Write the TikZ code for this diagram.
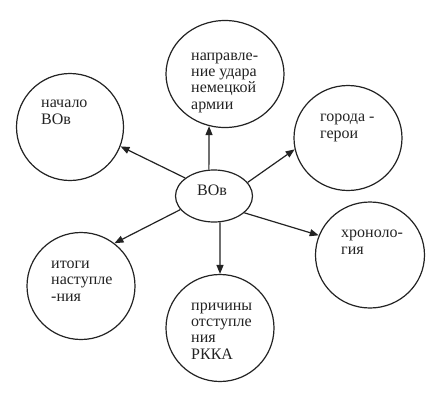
\documentclass[tikz,border=0pt]{standalone}
\usepackage{fontspec}
\setmainfont{Liberation Serif}
\usetikzlibrary{shapes.geometric,arrows.meta}
\definecolor{ink}{RGB}{35,35,35}
\begin{document}
\begin{tikzpicture}[x=1pt,y=-1pt,
  topic/.style={ellipse,draw=ink,line width=1.2pt,inner sep=0pt,minimum width=#1},
  lbl/.style={anchor=base west,inner sep=0pt,align=left,text=ink,
    font=\fontsize{16}{16.3}\selectfont},
  link/.style={draw=ink,line width=1.2pt,-{Triangle[length=9pt,width=7pt]}}]
\useasboundingbox (0,0) rectangle (445,400);
\fill[white] (0,0) rectangle (445,400);
% circles
\node[topic=118pt,minimum height=107pt] (t) at (225,74) {};
\node[topic=107pt,minimum height=107pt] (tl) at (70,127) {};
\node[topic=108pt,minimum height=105pt] (tr) at (348,138) {};
\node[topic=109pt,minimum height=106pt] (br) at (370,255) {};
\node[topic=108pt,minimum height=107pt] (bl) at (81,286) {};
\node[topic=108pt,minimum height=107pt] (b) at (220,328) {};
\node[topic=77pt,minimum height=52pt] (c) at (214,196) {};
% labels (anchored at the baseline of the last line)
\node[lbl] (tt) at (191,109) {направле-\\ние удара\\немецкой\\армии};
\node[lbl] (tlt) at (41,124) {начало\\ВОв};
\node[lbl] (trt) at (320,138) {города -\\герои};
\node[lbl] (ct) at (197,195) {ВОв};
\node[lbl] (blt) at (51,301) {итоги\\наступле\\-ния};
\node[lbl] (bt) at (191,359) {причины\\отступле\\ния\\РККА};
\node[lbl] (brt) at (341,254) {хроноло-\\гия};
% connectors
\draw[link] (c.101) -- (t.253);
\draw[link] (c.148) -- (tl.339);
\draw[link] (c.22) -- (tr.192.5);
\draw[link] (c.202.8) -- (bl.52.7);
\draw[link] (c.283) -- (b.90);
\draw[link] (c.331) -- (br.159);
\end{tikzpicture}
\end{document}
